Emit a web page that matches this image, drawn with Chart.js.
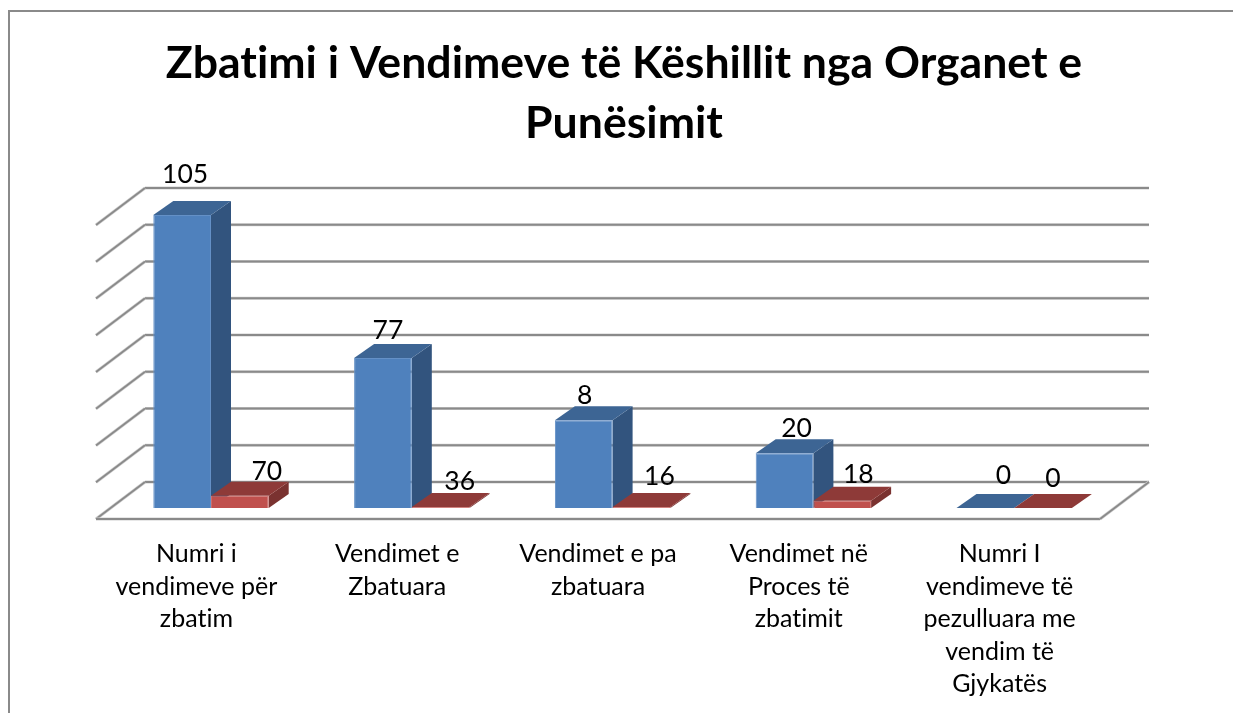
<!DOCTYPE html>
<html>
<head>
<meta charset="utf-8">
<title>Zbatimi i Vendimeve</title>
<script src="https://cdn.jsdelivr.net/npm/chart.js@4/dist/chart.umd.min.js"></script>
<style>
    html, body { margin: 0; padding: 0; background: #fff; overflow: hidden; }
    #frame { position: absolute; left: 8px; top: 10px; right: -4px; bottom: -4px; border-left: 2px solid #8a8a8a; border-top: 2px solid #8a8a8a; }
    #chart { position: absolute; left: 0; top: 0; }
</style>
</head>
<body>
<div id="frame"></div>
<canvas id="chart" width="1233" height="713"></canvas>
<script>
const titleLines = ["Zbatimi i Vendimeve të Këshillit nga Organet e", "Punësimit"];

const categories = [
    ["Numri i", "vendimeve për", "zbatim"],
    ["Vendimet e", "Zbatuara"],
    ["Vendimet e pa", "zbatuara"],
    ["Vendimet në", "Proces të", "zbatimit"],
    ["Numri I", "vendimeve të", "pezulluara me", "vendim të", "Gjykatës"]
];

// bar heights as drawn, in gridline steps (the printed labels do not follow them)
const blueHeights = [7.97, 4.08, 2.39, 1.49, 0];
const redHeights = [0.335, 0.03, 0.03, 0.2, 0];

// printed labels
const blueLabels = ["105", "77", "8", "20", "0"];
const redLabels = ["70", "36", "16", "18", "0"];

// where each printed label sits relative to the top of its bar
const blueLabelShift = [[3, -41], [5, -28], [1, -25], [12, -25], [18, -33]];
const redLabelShift = [[27, -24], [19, -25], [18, -30], [16, -26], [10, -30]];

const BAR_DX = 20, BAR_DY = 14;      // depth of a bar
const BACK_DX = 34.4, BACK_DY = 26;  // bar plane to back wall
const FRONT_DX = 14.6, FRONT_DY = 11; // bar plane to floor front edge

const fontName = "Lato, Carlito, sans-serif";

const poly = (ctx, pts, color) => {
    ctx.fillStyle = color;
    ctx.beginPath();
    pts.forEach((p, i) => i ? ctx.lineTo(p[0], p[1]) : ctx.moveTo(p[0], p[1]));
    ctx.closePath();
    ctx.fill();
};

// grey line with the pale edge it has in the picture
const line = (ctx, x1, y1, x2, y2) => {
    [["#cfcfcf", 3.2], ["#8a8a8a", 1.8]].forEach(([color, width]) => {
        ctx.strokeStyle = color;
        ctx.lineWidth = width;
        ctx.beginPath();
        ctx.moveTo(x1, y1);
        ctx.lineTo(x2, y2);
        ctx.stroke();
    });
};

const drawBarDepth = (ctx, meta, topColor, sideColor) => {
    meta.data.forEach(bar => {
        const left = bar.x - bar.width / 2, right = bar.x + bar.width / 2;
        if (bar.base - bar.y > 0.5) {
            poly(ctx, [[right, bar.y], [right + BAR_DX, bar.y - BAR_DY], [right + BAR_DX, bar.base - BAR_DY], [right, bar.base]], sideColor);
        }
        poly(ctx, [[left, bar.y], [left + BAR_DX, bar.y - BAR_DY], [right + BAR_DX, bar.y - BAR_DY], [right, bar.y]], topColor);
    });
};

const walls3d = {
    id: "walls3d",
    beforeDraw(chart) {
        chart.ctx.textRendering = "optimizeSpeed"; // no "ti" ligature in Lato
    },
    beforeDatasetsDraw(chart) {
        const { ctx, chartArea, scales } = chart;
        const backL = chartArea.left + BACK_DX, backR = chartArea.right + BACK_DX;
        const frontL = chartArea.left - FRONT_DX, frontR = chartArea.right - FRONT_DX;
        const bottom = scales.y.getPixelForValue(0);

        ctx.save();
        scales.y.ticks.forEach(tick => {
            const y = scales.y.getPixelForValue(tick.value);
            line(ctx, backL, y - BACK_DY, backR, y - BACK_DY);
            line(ctx, frontL, y + FRONT_DY, backL, y - BACK_DY);
        });
        line(ctx, frontL, bottom + FRONT_DY, frontR, bottom + FRONT_DY);
        line(ctx, frontR, bottom + FRONT_DY, backR, bottom - BACK_DY);

        drawBarDepth(ctx, chart.getDatasetMeta(0), "#3d6594", "#32547e");
        drawBarDepth(ctx, chart.getDatasetMeta(1), "#8e3a38", "#7a3230");
        ctx.restore();
    },
    afterDatasetsDraw(chart) {
        const { ctx } = chart;
        ctx.save();
        ctx.fillStyle = "#000";
        ctx.font = "26.5px " + fontName;
        ctx.textAlign = "center";
        ctx.textBaseline = "middle";
        [[blueLabels, blueLabelShift], [redLabels, redLabelShift]].forEach((set, d) => {
            chart.getDatasetMeta(d).data.forEach((bar, i) => {
                ctx.fillText(set[0][i], bar.x + set[1][i][0], bar.y + set[1][i][1]);
            });
        });
        ctx.restore();
    }
};

new Chart(document.getElementById("chart"), {
    type: "bar",
    data: {
        labels: categories,
        datasets: [
            { data: blueHeights, backgroundColor: "#4f81bd", borderColor: "#6490c6", borderWidth: 1, categoryPercentage: 0.5747, barPercentage: 1 },
            { data: redHeights, backgroundColor: "#c0504d", borderColor: "#cd6d6a", borderWidth: 1, categoryPercentage: 0.5747, barPercentage: 1 }
        ]
    },
    options: {
        responsive: false,
        animation: false,
        layout: { padding: { left: 15, right: 0, top: 0, bottom: 0 } },
        plugins: {
            legend: { display: false },
            tooltip: { enabled: false },
            title: {
                display: true,
                text: titleLines,
                color: "#000",
                font: { family: fontName, size: 44.6, weight: "bold", lineHeight: 60 / 44.6 },
                padding: { top: 34, bottom: 60 }
            }
        },
        scales: {
            x: {
                grid: { display: false },
                border: { display: false },
                ticks: {
                    color: "#000",
                    font: { family: fontName, size: 25, lineHeight: 32.5 / 25 },
                    padding: 22,
                    labelOffset: -14.6,
                    maxRotation: 0,
                    autoSkip: false
                },
                afterFit(scale) { scale.height = 205; }
            },
            y: {
                min: 0,
                max: 8,
                grid: { display: false },
                border: { display: false },
                ticks: { display: false, stepSize: 1 },
                afterFit(scale) { scale.width = 95.6; }
            },
            // empty axis, only holds the plot away from the right edge
            yRight: {
                position: "right",
                min: 0,
                max: 8,
                grid: { display: false },
                border: { display: false },
                ticks: { display: false },
                afterFit(scale) { scale.width = 118.4; }
            }
        }
    },
    plugins: [walls3d]
});
</script>
</body>
</html>
